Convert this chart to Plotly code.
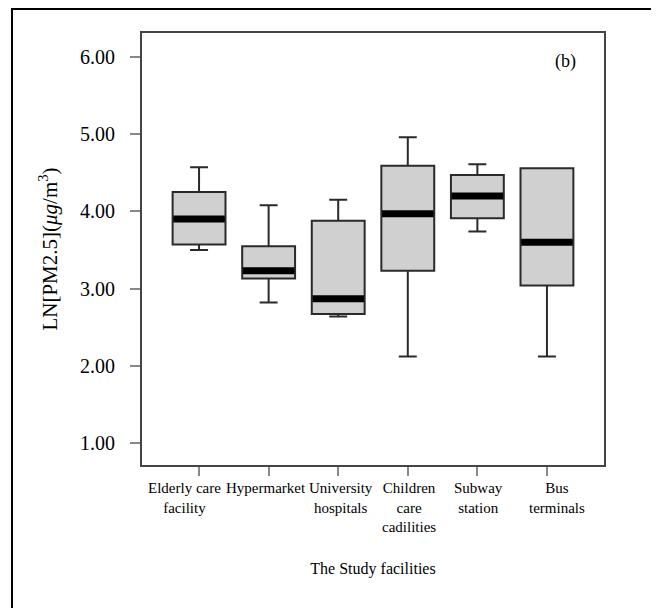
import plotly.graph_objects as go

categories = ["Elderly care<br>facility", "Hypermarket", "University<br>hospitals",
              "Children<br>care<br>cadilities", "Subway<br>station", "Bus<br>terminals"]
lower_whisker = [3.50, 2.82, 2.64, 2.12, 3.74, 2.12]
q1 = [3.57, 3.13, 2.67, 3.23, 3.91, 3.04]
median = [3.90, 3.23, 2.87, 3.97, 4.20, 3.60]
q3 = [4.25, 3.55, 3.88, 4.59, 4.47, 4.56]
upper_whisker = [4.57, 4.08, 4.15, 4.96, 4.61, 4.56]
y_ticks = [1, 2, 3, 4, 5, 6]
y_tick_labels = ["1.00", "2.00", "3.00", "4.00", "5.00", "6.00"]
label_shift_px = [-15, -3, 3, 1, 1, 10]

positions = list(range(len(categories)))
box_w = 0.76
FONT = "Liberation Serif, Times New Roman, serif"

fig = go.Figure()
fig.add_trace(go.Box(
    x=positions, q1=q1, median=median, q3=q3,
    lowerfence=lower_whisker, upperfence=upper_whisker,
    width=box_w, whiskerwidth=0.34,
    fillcolor="#d0d0d0",
    line=dict(color="#2a2a2a", width=2),
    boxpoints=False, showlegend=False, hoverinfo="skip",
))

mx, my = [], []
for p, m in zip(positions, median):
    mx += [p - box_w / 2 + 0.01, p + box_w / 2 - 0.01, None]
    my += [m, m, None]
fig.add_trace(go.Scatter(x=mx, y=my, mode="lines",
                         line=dict(color="black", width=7),
                         showlegend=False, hoverinfo="skip"))

# page is offset by the 8px body margin
W, H = 651, 600
L, R, T, B = 134, 55, 25, 143
pw, ph = W - L - R, H - T - B

def px_x(v):
    return (v - 8 - L) / pw

def px_y(v):
    return (H - B - (v - 8)) / ph

fig.add_shape(type="path",
              path=f"M {px_x(12)} {px_y(640)} L {px_x(12)} {px_y(9)} L {px_x(652)} {px_y(9)} L {px_x(652)} {px_y(640)}",
              xref="paper", yref="paper", line=dict(color="black", width=2), layer="above")

# category labels (placed individually as in the reference)
for p, lab, sh in zip(positions, categories, label_shift_px):
    fig.add_annotation(x=p, y=0, xref="x", yref="paper", text=lab, showarrow=False,
                       xanchor="center", yanchor="top", xshift=sh, yshift=-13,
                       align="center",
                       font=dict(family=FONT, size=15, color="black"))

fig.add_annotation(x=5.26, y=5.94, xref="x", yref="y", text="(b)", showarrow=False,
                   font=dict(family=FONT, size=18, color="black"))

fig.update_layout(
    width=W, height=H,
    margin=dict(l=L, r=R, t=T, b=B),
    paper_bgcolor="white", plot_bgcolor="white",
    font=dict(family=FONT, color="black"),
    xaxis=dict(
        range=[-0.82, 5.82], tickmode="array", tickvals=positions,
        showticklabels=False,
        ticks="outside", ticklen=9, tickwidth=2, tickcolor="#888888",
        showline=True, linecolor="#444444", linewidth=2, mirror=True,
        showgrid=False, zeroline=False,
        title=dict(text="The Study facilities", font=dict(family=FONT, size=16, color="black"),
                   standoff=88),
    ),
    yaxis=dict(
        range=[0.716, 6.31], tickmode="array", tickvals=y_ticks, ticktext=y_tick_labels,
        ticks="outside", ticklen=10, tickwidth=2, tickcolor="#888888",
        tickfont=dict(family=FONT, size=20, color="black"),
        ticklabelstandoff=11,
        showline=True, linecolor="#444444", linewidth=2, mirror=True,
        showgrid=False, zeroline=False,
        title=dict(text="LN[PM2.5](<i>μg</i>/m<sup>3</sup>)",
                   font=dict(family=FONT, size=21, color="black"), standoff=17),
    ),
)

fig.write_html("out.html")
